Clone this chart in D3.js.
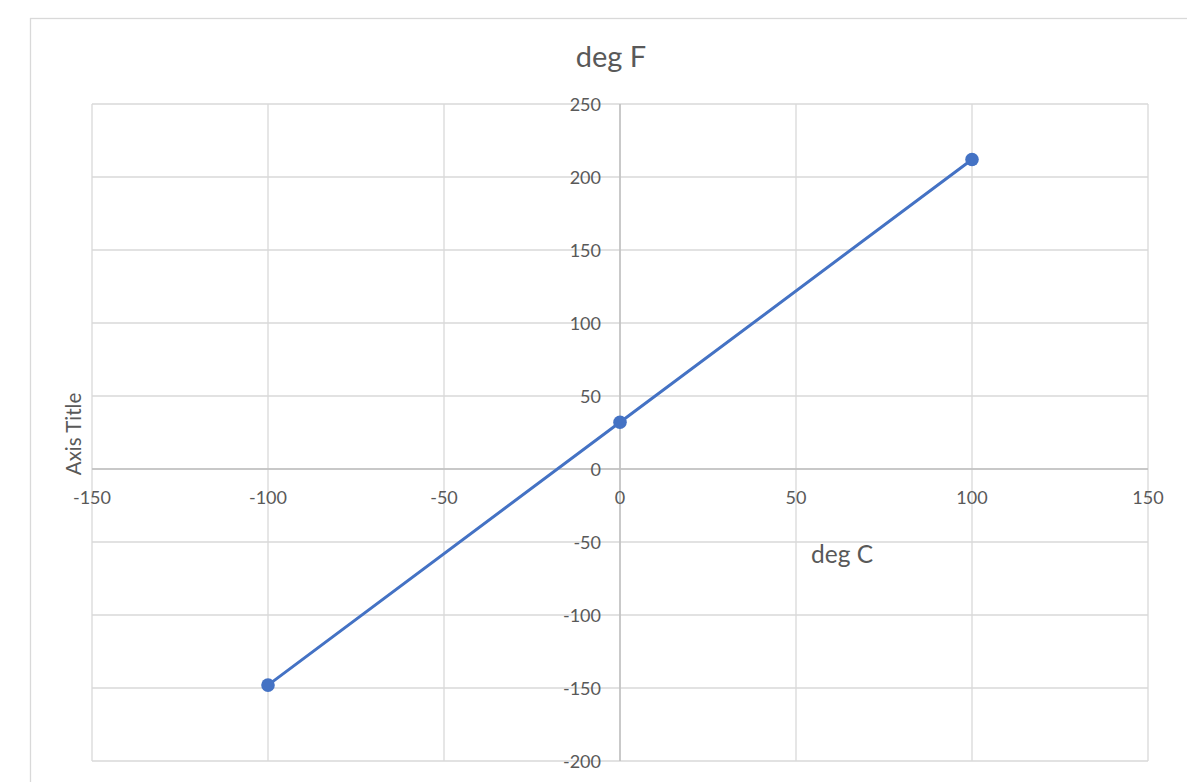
<!DOCTYPE html>
<html><head><meta charset="utf-8">
<script src="https://cdn.jsdelivr.net/npm/d3@7"></script>
<style>body{margin:0;background:#fff;} svg{display:block;font-family:Lato,"Open Sans",sans-serif;}</style>
</head><body>
<svg id="c" width="1187" height="782"></svg>
<script>
const celsius = [-100, 0, 100];
const fahrenheit = [-148, 32, 212];
const xTicks = [-150, -100, -50, 0, 50, 100, 150];
const yTicks = [-200, -150, -100, -50, 0, 50, 100, 150, 200, 250];
const chartTitle = "deg F";
const xTitle = "deg C";
const yTitle = "Axis Title";

const svg = d3.select("#c");
const x = d3.scaleLinear().domain([-150, 150]).range([92, 1148]);
const y = d3.scaleLinear().domain([-200, 250]).range([761, 104]);
const textCol = "#595959";

// chart area border
svg.append("rect").attr("x", 30.5).attr("y", 18.5).attr("width", 1200).attr("height", 800)
  .attr("fill", "none").attr("stroke", "#d9d9d9").attr("stroke-width", 1.3);

// gridlines
const g = svg.append("g");
g.selectAll(".vg").data(xTicks).join("line")
  .attr("x1", d => x(d)).attr("x2", d => x(d)).attr("y1", y(250)).attr("y2", y(-200))
  .attr("stroke", "#d9d9d9").attr("stroke-width", 1.3);
g.selectAll(".hg").data(yTicks).join("line")
  .attr("x1", x(-150)).attr("x2", x(150)).attr("y1", d => y(d)).attr("y2", d => y(d))
  .attr("stroke", "#d9d9d9").attr("stroke-width", 1.3);

// axes lines at zero
svg.append("line").attr("x1", x(-150)).attr("x2", x(150)).attr("y1", y(0)).attr("y2", y(0))
  .attr("stroke", "#bfbfbf").attr("stroke-width", 1.5);
svg.append("line").attr("x1", x(0)).attr("x2", x(0)).attr("y1", y(250)).attr("y2", y(-200))
  .attr("stroke", "#bfbfbf").attr("stroke-width", 1.5);

// tick labels
svg.selectAll(".xt").data(xTicks).join("text")
  .attr("x", d => x(d)).attr("y", y(0) + 35).attr("text-anchor", "middle")
  .attr("font-size", 18).attr("fill", textCol).text(d => d);
svg.selectAll(".yt").data(yTicks).join("text")
  .attr("x", x(0) - 19).attr("y", d => y(d) + 6.5).attr("text-anchor", "end")
  .attr("font-size", 18).attr("fill", textCol).text(d => d);

// series
const pts = celsius.map((c, i) => [c, fahrenheit[i]]);
svg.append("path").datum(pts)
  .attr("d", d3.line().x(d => x(d[0])).y(d => y(d[1])))
  .attr("fill", "none").attr("stroke", "#4472c4").attr("stroke-width", 3).attr("stroke-linecap", "round");
svg.selectAll(".pt").data(pts).join("circle")
  .attr("cx", d => x(d[0])).attr("cy", d => y(d[1])).attr("r", 6.8).attr("fill", "#4472c4");

// titles
svg.append("text").attr("x", 611).attr("y", 67).attr("text-anchor", "middle")
  .attr("font-size", 29).attr("fill", textCol).text(chartTitle);
svg.append("text").attr("x", 811).attr("y", 563).attr("text-anchor", "start")
  .attr("font-size", 24.5).attr("fill", textCol).text(xTitle);
svg.append("text").attr("transform", "translate(81,434) rotate(-90)").attr("text-anchor", "middle")
  .attr("font-size", 20.5).attr("fill", textCol).text(yTitle);
</script>
</body></html>
